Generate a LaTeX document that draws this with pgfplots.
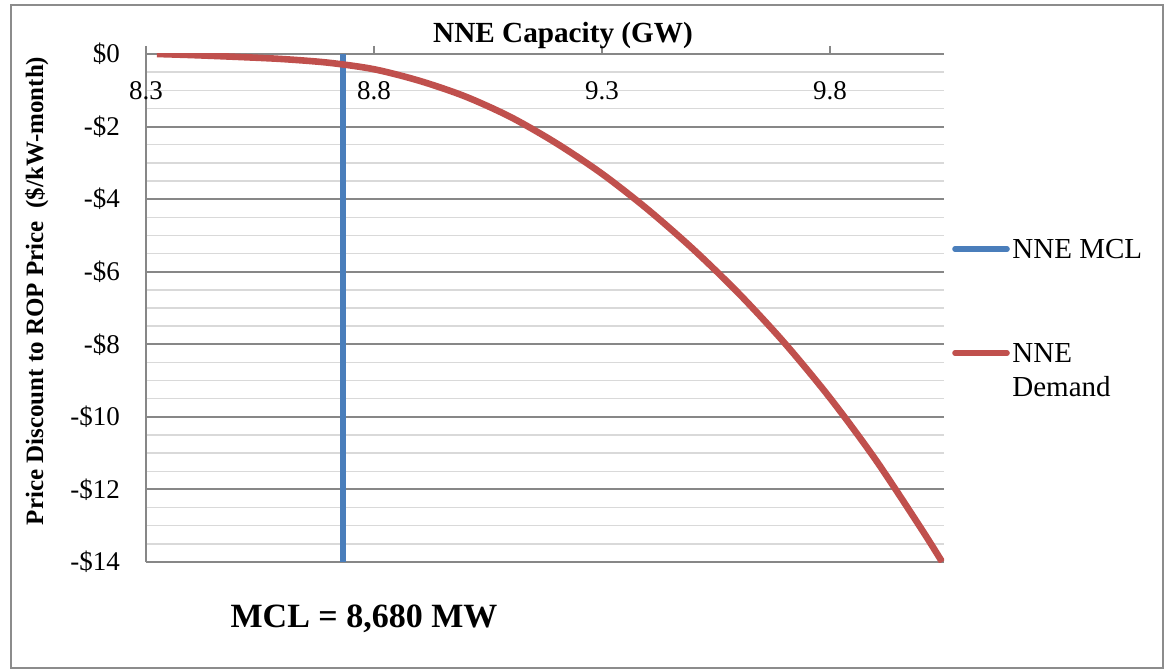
\documentclass[border=0pt]{standalone}
\usepackage{fontspec}
\setmainfont{Liberation Serif}
\usepackage{pgfplots}
\pgfplotsset{compat=1.18}
\definecolor{mclblue}{HTML}{4A7EBB}
\definecolor{demred}{HTML}{C0504D}
\definecolor{majgrid}{HTML}{878787}
\definecolor{mingrid}{HTML}{D9D9D9}
\definecolor{framegray}{HTML}{8C8C8C}
\begin{document}
\begin{tikzpicture}[x=0.5pt,y=0.5pt]
\path[use as bounding box] (0,0) rectangle (1165,671);
\draw[framegray, line width=1pt] (11,666) rectangle (1163,3);
\begin{axis}[
  at={(73pt,308.5pt)}, anchor=north west,
  width=399pt, height=254pt, scale only axis,
  xmin=8.3, xmax=10.05, ymin=-14, ymax=0,
  axis x line*=top, axis y line*=left,
  axis line style={-, draw=majgrid, line width=1pt},
  xtick={8.3,8.8,9.3,9.8},
  xticklabels={8.3,8.8,9.3,9.8},
  tick align=outside,
  major tick length=4pt,
  x tick style={draw=majgrid, line width=0.6pt},
  xticklabel style={font=\fontsize{13.5}{15}\selectfont, anchor=base, yshift=-27pt},
  ytick={-14,-12,-10,-8,-6,-4,-2,0},
  yticklabels={-\$14,-\$12,-\$10,-\$8,-\$6,-\$4,-\$2,\$0},
  y tick style={draw=none},
  minor y tick num=3,
  minor tick style={draw=none},
  yticklabel style={font=\fontsize{13.5}{15}\selectfont, xshift=-5.5pt},
  ymajorgrids=true, yminorgrids=true,
  major grid style={draw=majgrid, line width=1pt},
  minor grid style={draw=mingrid, line width=0.75pt},
]
\addplot[mclblue, line width=3pt] coordinates {(8.732,0) (8.732,-14)};
\addplot[demred, line width=3.3pt, smooth] coordinates {
(8.324,0) (8.40,-0.03) (8.50,-0.08) (8.60,-0.14) (8.70,-0.24) (8.80,-0.42)
(8.90,-0.74) (9.00,-1.17) (9.10,-1.74) (9.20,-2.46) (9.30,-3.30)
(9.40,-4.28) (9.50,-5.38) (9.60,-6.60) (9.70,-7.96) (9.80,-9.48)
(9.90,-11.18) (10.00,-13.08) (10.046,-14.0)};
\end{axis}
\node[anchor=base, font=\fontsize{14.6}{16}\selectfont\bfseries] at (563,628) {NNE Capacity (GW)};
\node[anchor=base, rotate=90, font=\fontsize{12.5}{14}\selectfont\bfseries] at (43,380) {Price Discount to ROP Price\ \ (\$/kW-month)};
\node[anchor=base, font=\fontsize{17}{19}\selectfont\bfseries] at (364,44) {MCL = 8,680 MW};
\draw[mclblue, line width=2.8pt, line cap=round] (955,422) -- (1007,422);
\draw[demred, line width=2.8pt, line cap=round] (955,318) -- (1007,318);
\node[anchor=base west, inner sep=0pt, font=\fontsize{14.5}{16}\selectfont] at (1012,413) {NNE MCL};
\node[anchor=base west, inner sep=0pt, font=\fontsize{14.5}{16}\selectfont] at (1012,309) {NNE};
\node[anchor=base west, inner sep=0pt, font=\fontsize{14.5}{16}\selectfont] at (1012,275) {Demand};
\end{tikzpicture}
\end{document}
